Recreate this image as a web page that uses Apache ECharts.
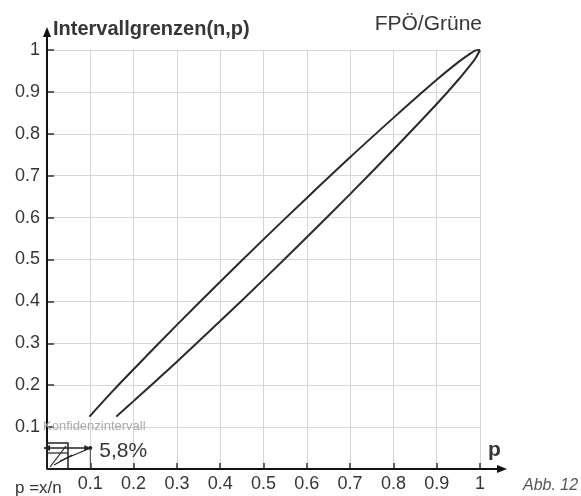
<!DOCTYPE html>
<html>
<head>
<meta charset="utf-8">
<script src="https://cdn.jsdelivr.net/npm/echarts@6/dist/echarts.min.js"></script>
<style>
html,body{margin:0;padding:0;background:#fff;}
#c{width:581px;height:496px;}
</style>
</head>
<body>
<div id="c"></div>
<script>
// ---- data ----
var upperP = [0.098, 0.15, 0.2, 0.3, 0.4, 0.5, 0.6, 0.7, 0.8, 0.86, 0.9, 0.95, 0.98, 0.99, 1.0];
var upperBound = [0.125, 0.184, 0.238, 0.344, 0.447, 0.548, 0.647, 0.744, 0.838, 0.893, 0.929, 0.971, 0.993, 0.999, 1.0];
var lowerP = [0.16, 0.2, 0.3, 0.4, 0.5, 0.6, 0.7, 0.8, 0.9, 0.95, 0.98, 0.99, 1.0];
var lowerBound = [0.125, 0.162, 0.256, 0.353, 0.452, 0.553, 0.656, 0.762, 0.871, 0.929, 0.967, 0.981, 1.0];
var xTickLabels = ['', '0.1', '0.2', '0.3', '0.4', '0.5', '0.6', '0.7', '0.8', '0.9', '1'];
var yTickLabels = ['', '0.1', '0.2', '0.3', '0.4', '0.5', '0.6', '0.7', '0.8', '0.9', '1'];
var titleText = 'Intervallgrenzen(n,p)';
var partyText = 'FPÖ/Grüne';
var intervalText = '5,8%';

function zip(a, b) { return a.map(function (v, i) { return [v, b[i]]; }); }

var chart = echarts.init(document.getElementById('c'), null, {renderer: 'canvas'});
var FONT = 'Liberation Sans, Arial, sans-serif';
var TXT = '#363636';

chart.setOption({
  animation: false,
  backgroundColor: '#fff',
  grid: {left: 47, right: 101, top: 50, bottom: 27, containLabel: false},
  xAxis: {
    type: 'value', min: 0, max: 1, interval: 0.1,
    axisLine: {show: false},
    axisTick: {show: true, inside: true, length: 6, lineStyle: {color: '#333', width: 1.5}},
    splitLine: {show: true, lineStyle: {color: '#d6d6d6', width: 1}},
    axisLabel: {
      fontFamily: FONT, fontSize: 18, color: TXT, margin: 6,
      formatter: function (v) { return xTickLabels[Math.round(v * 10)]; }
    }
  },
  yAxis: {
    type: 'value', min: 0, max: 1, interval: 0.1,
    axisLine: {show: false},
    axisTick: {show: true, inside: true, length: 7, lineStyle: {color: '#333', width: 1.5}},
    splitLine: {show: true, lineStyle: {color: '#d6d6d6', width: 1}},
    axisLabel: {
      fontFamily: FONT, fontSize: 18, color: TXT, margin: 7,
      formatter: function (v) { return yTickLabels[Math.round(v * 10)]; }
    }
  },
  series: [
    {type: 'line', data: zip(upperP, upperBound), smooth: 0.3, symbol: 'none',
     lineStyle: {color: '#2a2a2a', width: 2}},
    {type: 'line', data: zip(lowerP, lowerBound), smooth: 0.3, symbol: 'none',
     lineStyle: {color: '#2a2a2a', width: 2}}
  ]
});

function px(x, y) { return chart.convertToPixel({gridIndex: 0}, [x, y]); }
var o = px(0, 0), xe = px(1, 0), ye = px(0, 1);
var x01 = px(0.1, 0);

var g = [];
// axes with arrows extending beyond the data range
g.push({type: 'line', shape: {x1: o[0], y1: o[1], x2: xe[0] + 24, y2: o[1]}, style: {stroke: '#111', lineWidth: 2}, z: 50});
g.push({type: 'polygon', shape: {points: [[xe[0] + 27, o[1]], [xe[0] + 17, o[1] - 4], [xe[0] + 17, o[1] + 4]]}, style: {fill: '#111'}, z: 50});
g.push({type: 'line', shape: {x1: o[0], y1: o[1], x2: o[0], y2: ye[1] - 20}, style: {stroke: '#111', lineWidth: 2}, z: 50});
g.push({type: 'polygon', shape: {points: [[o[0], ye[1] - 23], [o[0] - 4, ye[1] - 13], [o[0] + 4, ye[1] - 13]]}, style: {fill: '#111'}, z: 50});

// titles and labels
g.push({type: 'text', x: o[0] + 6, y: ye[1] - 21, style: {text: titleText, font: 'bold 20px ' + FONT, fill: TXT, textVerticalAlign: 'middle'}, z: 50});
g.push({type: 'text', x: 482, y: ye[1] - 26, style: {text: partyText, font: '21px ' + FONT, fill: TXT, align: 'right', textAlign: 'right', textVerticalAlign: 'middle'}, z: 50});
g.push({type: 'text', x: xe[0] + 8, y: o[1] - 19, style: {text: 'p', font: 'bold 21px ' + FONT, fill: TXT, textVerticalAlign: 'middle'}, z: 50});
g.push({type: 'text', x: 15, y: o[1] + 19, style: {text: 'p =x/n', font: '17px ' + FONT, fill: TXT, textVerticalAlign: 'middle'}, z: 50});
g.push({type: 'text', x: 523, y: o[1] + 17, style: {text: 'Abb. 12', font: 'italic 16px ' + FONT, fill: '#555', textVerticalAlign: 'middle'}, z: 50});

// small legend inset: Konfidenzintervall
var bx0 = o[0], by0 = o[1] - 26, bx1 = o[0] + 21, by1 = o[1];
g.push({type: 'text', x: o[0] - 4, y: o[1] - 43, style: {text: 'Konfidenzintervall', font: '13px ' + FONT, fill: '#aaa', textVerticalAlign: 'middle'}, z: 50});
g.push({type: 'rect', shape: {x: bx0, y: by0, width: bx1 - bx0, height: by1 - by0}, style: {fill: 'none', stroke: '#222', lineWidth: 1.5}, z: 50});
g.push({type: 'line', shape: {x1: bx0, y1: by0 + 10, x2: bx1, y2: by0 + 10}, style: {stroke: '#222', lineWidth: 1.2}, z: 50});
g.push({type: 'line', shape: {x1: bx0 + 3, y1: by1 - 2, x2: bx1 - 2, y2: by0 + 3}, style: {stroke: '#222', lineWidth: 1.2}, z: 50});
g.push({type: 'line', shape: {x1: bx0 + 7, y1: by1 - 4, x2: bx1 + 4, y2: by0 + 12}, style: {stroke: '#222', lineWidth: 1.2}, z: 50});
g.push({type: 'line', shape: {x1: bx1 - 8, y1: by0 + 18, x2: x01[0], y2: by0 + 5}, style: {stroke: '#222', lineWidth: 1.2}, z: 50});
g.push({type: 'line', shape: {x1: bx0 - 3, y1: by0 + 5, x2: x01[0], y2: by0 + 5}, style: {stroke: '#222', lineWidth: 1.5}, z: 50});
g.push({type: 'polygon', shape: {points: [[bx0 - 3, by0 + 5], [bx0 + 3, by0 + 2], [bx0 + 3, by0 + 8]]}, style: {fill: '#222'}, z: 50});
g.push({type: 'polygon', shape: {points: [[x01[0], by0 + 5], [x01[0] - 6, by0 + 2], [x01[0] - 6, by0 + 8]]}, style: {fill: '#222'}, z: 50});
g.push({type: 'circle', shape: {cx: x01[0], cy: by0 + 5, r: 2}, style: {fill: '#222'}, z: 50});
g.push({type: 'line', shape: {x1: x01[0], y1: by0 + 5, x2: x01[0], y2: by1}, style: {stroke: '#444', lineWidth: 1}, z: 50});
g.push({type: 'text', x: x01[0] + 9, y: by0 + 8, style: {text: intervalText, font: '21px ' + FONT, fill: TXT, textVerticalAlign: 'middle'}, z: 50});

chart.setOption({graphic: g});
</script>
</body>
</html>
